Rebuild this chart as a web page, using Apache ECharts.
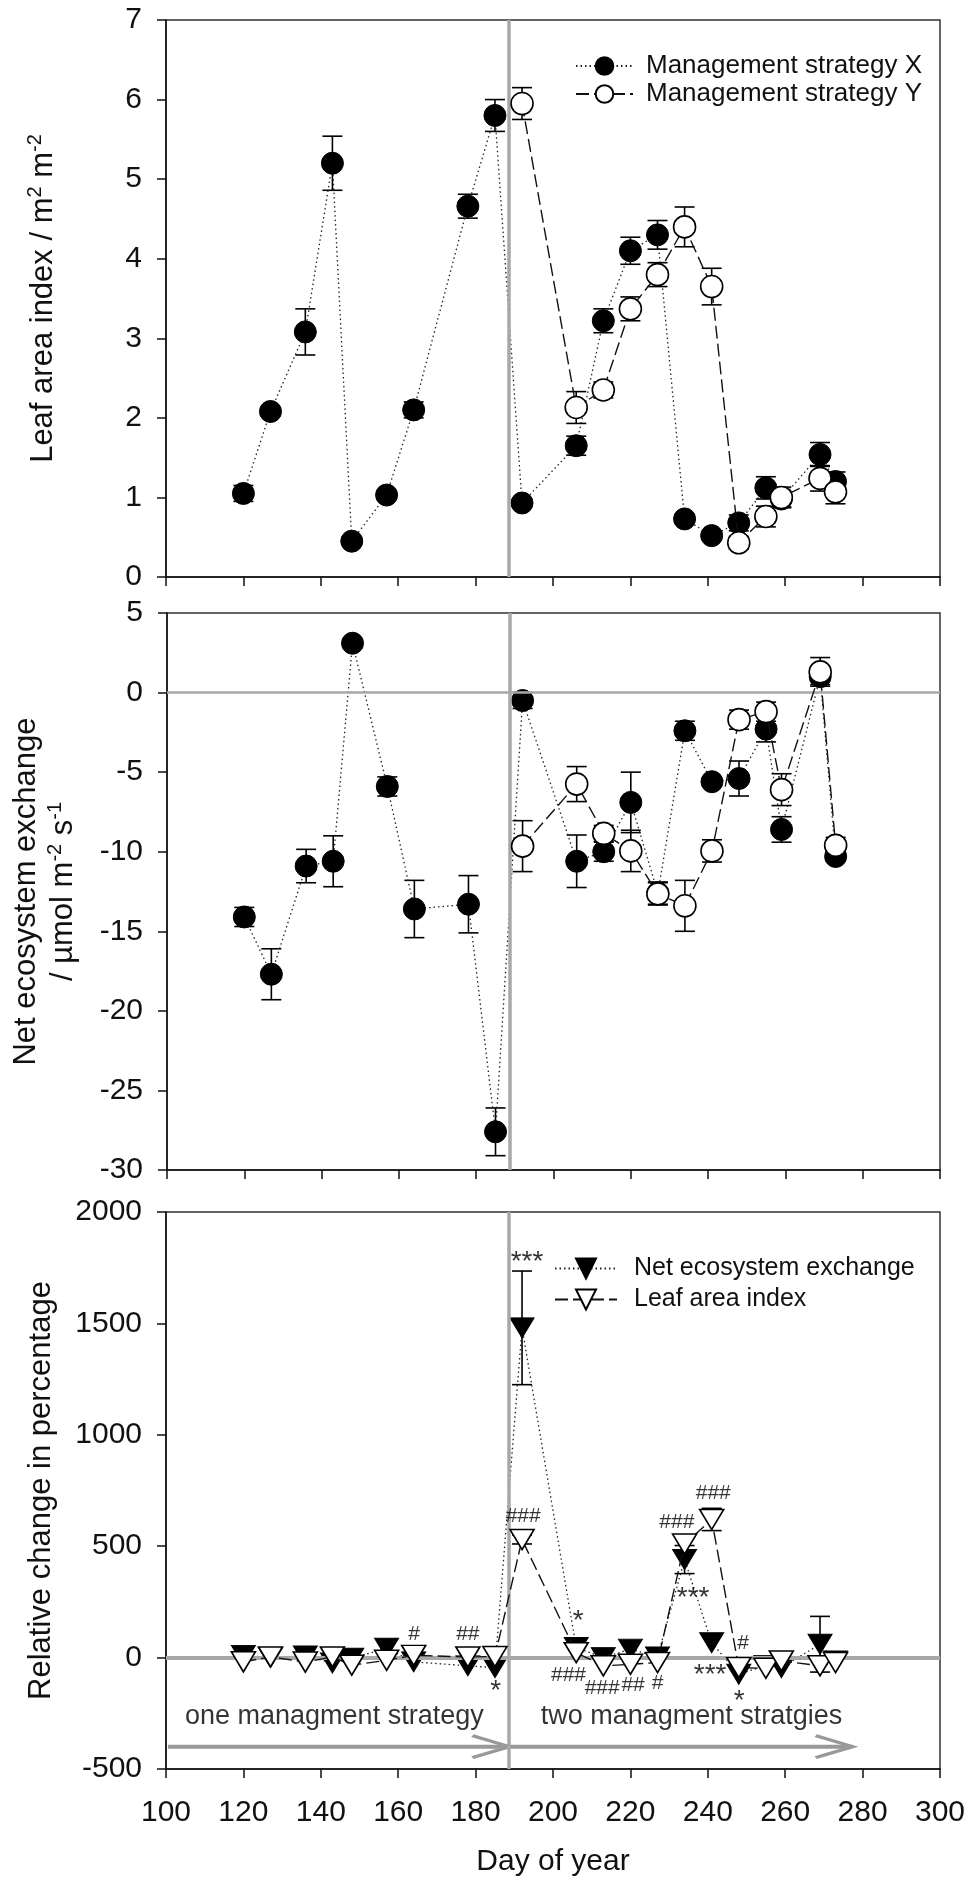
<!DOCTYPE html>
<html>
<head>
<meta charset="utf-8">
<script src="https://cdn.jsdelivr.net/npm/echarts@6/dist/echarts.min.js"></script>
<style>
html,body{margin:0;padding:0;background:#fff;}
#chart{width:970px;height:1881px;}
</style>
</head>
<body>
<div id="chart"></div>
<script>
// ---------- data ----------
const daysX = [120,127,136,143,148,157,164,178,185,192,206,213,220,227,234,241,248,255,259,269,273];
const daysY = [192,206,213,220,227,234,241,248,255,259,269,273];

const laiX    = [1.05,2.08,3.08,5.2,0.45,1.03,2.1,4.66,5.8,0.93,1.65,3.22,4.1,4.3,0.73,0.52,0.68,1.12,0.98,1.54,1.2];
const laiXErr = [0.1,0.06,0.29,0.34,0.05,0.06,0.1,0.15,0.2,0.06,0.12,0.15,0.17,0.18,0.06,0.05,0.1,0.14,0.1,0.15,0.12];
const laiY    = [5.95,2.13,2.35,3.37,3.8,4.4,3.65,0.43,0.76,1.0,1.24,1.07];
const laiYErr = [0.2,0.2,0.1,0.15,0.15,0.25,0.23,0.08,0.13,0.13,0.16,0.15];

const neeX    = [-14.1,-17.7,-10.9,-10.6,3.1,-5.9,-13.6,-13.3,-27.6,-0.5,-10.6,-10.0,-6.9,-12.6,-2.4,-5.6,-5.4,-2.3,-8.6,1.0,-10.3];
const neeXErr = [0.6,1.6,1.05,1.6,0.3,0.6,1.8,1.8,1.5,0.5,1.65,0.6,1.9,0.7,0.6,0.3,1.1,0.8,0.8,0.5,0.3];
const neeY    = [-9.65,-5.75,-8.85,-9.95,-12.65,-13.4,-9.95,-1.7,-1.2,-6.1,1.3,-9.6];
const neeYErr = [1.6,1.1,0.5,1.3,0.7,1.6,0.7,0.6,0.6,1.0,0.9,0.5];

const relNee    = [10,0,7,-24,-3,42,-19,-37,-45,1480,45,0,38,3,440,67,-75,-35,-45,60,-15];
const relNeeErr = [0,0,0,0,0,0,0,0,0,255,0,0,0,0,63,0,0,0,0,125,0];
const relLai    = [-19,3,-20,3,-34,-12,10,3,5,530,22,-37,-30,-22,510,620,-45,-48,-15,-37,-22];
const relLaiErr = [0,0,0,0,0,0,0,0,0,20,0,0,0,0,30,50,0,0,0,0,0];

const annDays   = [193.3,192.3,206.5,204,212.7,220.7,227,232,236.2,241.4,249.1,240.6,248.1,185.2,164.1,178];
const annValues = [1810,633,198,-81,-139,-126,-117,606,301,737,63,-45,-162,-117,103,103];
const annTexts  = ['***','###','*','###','###','##','#','###','***','###','#','***','*','*','#','##'];

const phaseDay = 188.6;
const phaseTexts = ['one managment strategy','two managment stratgies'];
const phaseTextDays = [143.5,235.8];
const phaseTextValue = -265;
const arrowStarts = [100.5,188.6];
const arrowEnds = [188.6,277.3];
const arrowValue = -400;

const xTicks = {min:100,max:300,interval:20};
const yLai = {min:0,max:7,interval:1};
const yNee = {min:-30,max:5,interval:5};
const yRel = {min:-500,max:2000,interval:500};

// ---------- helpers ----------
const FONT = '"Liberation Sans", Arial, sans-serif';
const BLACK = '#111';
const GRAY = '#a8a8a8';
const pairs = (d,v) => d.map((x,i)=>[x,v[i]]);
const errs = (d,v,e) => d.map((x,i)=>[x,v[i]-e[i],v[i]+e[i],e[i]]).filter(r=>r[3]>0);

function errSeries(data, gi, z){
  return {
    type:'custom', xAxisIndex:gi, yAxisIndex:gi, z:z, silent:true,
    encode:{x:0,y:[1,2]},
    data:data,
    renderItem:function(params, api){
      const x = api.value(0);
      const lo = api.coord([x, api.value(1)]);
      const hi = api.coord([x, api.value(2)]);
      const w = 10;
      const st = {stroke:'#000', lineWidth:1.6};
      return {type:'group', children:[
        {type:'line', shape:{x1:lo[0],y1:lo[1],x2:hi[0],y2:hi[1]}, style:st},
        {type:'line', shape:{x1:hi[0]-w,y1:hi[1],x2:hi[0]+w,y2:hi[1]}, style:st},
        {type:'line', shape:{x1:lo[0]-w,y1:lo[1],x2:lo[0]+w,y2:lo[1]}, style:st}
      ]};
    }
  };
}

const dotted = {color:'#222', width:1.3, type:[1.5,3]};
const dashed = {color:'#111', width:1.4, type:[13,5]};

function lineSeries(name, data, gi, z, filled, symbol, size, rotate, ls){
  return {
    name:name, type:'line', xAxisIndex:gi, yAxisIndex:gi, z:z,
    data:data, symbol:symbol, symbolSize:size, symbolRotate:rotate||0,
    showAllSymbol:true, animation:false,
    lineStyle:ls,
    itemStyle: filled ? {color:'#000', borderColor:'#000', borderWidth:1}
                      : {color:'#fff', borderColor:'#000', borderWidth:1.6}
  };
}

function refLines(gi, withZero, zw){
  const d = [{xAxis:phaseDay, lineStyle:{width:3.5}}];
  if (withZero) d.push({yAxis:0, lineStyle:{width:zw}});
  return {
    type:'line', xAxisIndex:gi, yAxisIndex:gi, z:1, data:[], silent:true,
    markLine:{symbol:'none', silent:true, animation:false, label:{show:false},
      lineStyle:{color:GRAY, width:3.5, type:'solid'}, data:d}
  };
}

const grids = [
  {left:166, width:774, top:20, height:557},
  {left:166, width:774, top:613, height:557},
  {left:166, width:774, top:1212, height:557}
].map(g => Object.assign(g, {show:true, borderColor:'#333', borderWidth:1.5, backgroundColor:'transparent'}));

function xAx(gi, showLabel){
  return Object.assign({
    type:'value', gridIndex:gi,
    axisLine:{show:true, onZero:false, lineStyle:{color:'#111', width:1.5}},
    axisTick:{show:true, length:9, lineStyle:{color:'#111', width:1.5}},
    axisLabel:{show:showLabel, fontFamily:FONT, fontSize:30, color:BLACK, margin:29,
      formatter:v=>String(v)},
    splitLine:{show:false},
    name: showLabel ? 'Day of year' : '',
    nameLocation:'middle', nameGap:77,
    nameTextStyle:{fontFamily:FONT, fontSize:30, color:BLACK, lineHeight:32}
  }, xTicks);
}

const supRich = {
  t:{fontFamily:FONT, fontSize:31, color:BLACK, lineHeight:37},
  sup:{fontFamily:FONT, fontSize:20, color:BLACK, lineHeight:22, verticalAlign:'top'}
};

function yAx(gi, range, name, gap){
  return Object.assign({
    type:'value', gridIndex:gi,
    axisLine:{show:true, onZero:false, lineStyle:{color:'#111', width:1.5}},
    axisTick:{show:true, length:9, lineStyle:{color:'#111', width:1.5}},
    axisLabel:{fontFamily:FONT, fontSize:30, color:BLACK, margin:24, formatter:v=>String(v)},
    splitLine:{show:false},
    name:name, nameLocation:'middle', nameGap:gap,
    nameTextStyle:{fontFamily:FONT, fontSize:31, color:BLACK, lineHeight:37, rich:supRich}
  }, range);
}

// annotation data
const annData = annDays.map((d,i)=>{
  const isHash = annTexts[i].indexOf('#')>=0;
  return {value:[d, annValues[i], annTexts[i]],
    label:{fontSize: isHash ? 21 : 28, offset:[0, isHash ? 0 : 8], fontFamily: FONT}};
});
const phaseData = phaseTextDays.map((d,i)=>[d, phaseTextValue, phaseTexts[i]]);

const chevron = 'path://M0,0 L37,11 L0,22';
function arrowSeries(i){
  return {
    type:'line', xAxisIndex:2, yAxisIndex:2, z:2, silent:true, animation:false,
    lineStyle:{color:'#999', width:4},
    data:[
      {value:[arrowStarts[i], arrowValue], symbol:'none'},
      {value:[arrowEnds[i], arrowValue], symbol:chevron, symbolSize:[37,22], symbolOffset:[-18,0],
       itemStyle:{color:'transparent', borderColor:'#999', borderWidth:4}}
    ]
  };
}

const option = {
  backgroundColor:'#fff',
  animation:false,
  grid:grids,
  xAxis:[xAx(0,false), xAx(1,false), xAx(2,true)],
  yAxis:[
    yAx(0, yLai, '{t|Leaf area index / m}{sup|2}{t| m}{sup|-2}', 104),
    yAx(1, yNee, '{t|Net ecosystem exchange}\n{t|/ µmol m}{sup|-2}{t| s}{sup|-1}', 85),
    yAx(2, yRel, '{t|Relative change in percentage}', 106)
  ],
  legend:[
    {left:570, top:48, orient:'vertical', itemWidth:57, itemHeight:22, itemGap:2,
     data:['Management strategy X','Management strategy Y'],
     textStyle:{fontFamily:FONT, fontSize:26, color:BLACK, padding:[0,0,0,8]}},
    {left:549, top:1251, orient:'vertical', itemWidth:62, itemHeight:25, itemGap:6,
     data:['Net ecosystem exchange','Leaf area index'],
     textStyle:{fontFamily:FONT, fontSize:25, color:BLACK, padding:[0,0,0,12]}}
  ],
  series:[
    refLines(0,false,0), refLines(1,true,2.5), refLines(2,true,4),
    // panel 1
    errSeries(errs(daysX, laiX, laiXErr), 0, 2),
    lineSeries('Management strategy X', pairs(daysX, laiX), 0, 3, true, 'circle', 22, 0, dotted),
    errSeries(errs(daysY, laiY, laiYErr), 0, 4),
    lineSeries('Management strategy Y', pairs(daysY, laiY), 0, 5, false, 'circle', 22, 0, dashed),
    // panel 2
    errSeries(errs(daysX, neeX, neeXErr), 1, 2),
    lineSeries('Management strategy X', pairs(daysX, neeX), 1, 3, true, 'circle', 22, 0, dotted),
    errSeries(errs(daysY, neeY, neeYErr), 1, 4),
    lineSeries('Management strategy Y', pairs(daysY, neeY), 1, 5, false, 'circle', 22, 0, dashed),
    // panel 3
    arrowSeries(0), arrowSeries(1),
    errSeries(errs(daysX, relNee, relNeeErr), 2, 2),
    lineSeries('Net ecosystem exchange', pairs(daysX, relNee), 2, 3, true, 'triangle', [24,20], 180, dotted),
    errSeries(errs(daysX, relLai, relLaiErr), 2, 4),
    lineSeries('Leaf area index', pairs(daysX, relLai), 2, 5, false, 'triangle', [24,20], 180, dashed),
    {
      type:'scatter', xAxisIndex:2, yAxisIndex:2, z:6, silent:true, symbolSize:0,
      data:annData,
      label:{show:true, position:'inside', color:'#000',
        formatter:p=>p.value[2]}
    },
    {
      type:'scatter', xAxisIndex:2, yAxisIndex:2, z:6, silent:true, symbolSize:0,
      data:phaseData,
      label:{show:true, position:'inside', color:'#000', fontFamily:FONT, fontSize:27,
        formatter:p=>p.value[2]}
    }
  ]
};

const chart = echarts.init(document.getElementById('chart'), null, {renderer:'canvas'});
chart.setOption(option);
</script>
</body>
</html>
